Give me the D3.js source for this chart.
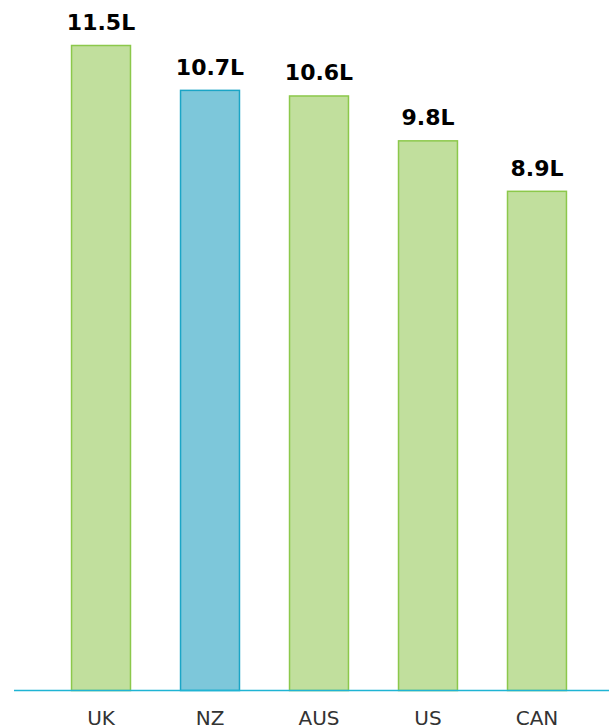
<!DOCTYPE html>
<html>
<head>
<meta charset="utf-8">
<script src="https://cdnjs.cloudflare.com/ajax/libs/d3/7.8.5/d3.min.js"></script>
<style>
  body { margin: 0; background: #fff; }
  svg { display: block; }
  .val { font-family: "DejaVu Sans", sans-serif; font-weight: bold; font-size: 22px; fill: #000; }
  .cat { font-family: "DejaVu Sans", sans-serif; font-size: 20px; fill: #333; }
</style>
</head>
<body>
<svg id="chart" width="609" height="728"></svg>
<script>
var countries = ["UK", "NZ", "AUS", "US", "CAN"];
var litres = [11.5, 10.7, 10.6, 9.8, 8.9];
var highlight = ["NZ"];

var svg = d3.select("#chart");

var baseY = 690;

var x = d3.scaleBand()
  .domain(countries)
  .range([22, 616])
  .paddingInner(0.45)
  .paddingOuter(0.45);

var y = d3.scaleLinear()
  .domain([0, 11.5])
  .range([baseY, 45]);

var data = countries.map(function(c, i){ return {c: c, v: litres[i]}; });

// bars
svg.selectAll("rect.bar")
  .data(data)
  .enter().append("rect")
  .attr("class", "bar")
  .attr("x", function(d){ return x(d.c) + 0.5; })
  .attr("y", function(d){ return y(d.v) + 0.5; })
  .attr("width", x.bandwidth() - 1)
  .attr("height", function(d){ return baseY - y(d.v); })
  .attr("fill", function(d){ return highlight.indexOf(d.c) > -1 ? "#7dc7da" : "#c1df9d"; })
  .attr("stroke", function(d){ return highlight.indexOf(d.c) > -1 ? "#1ba5c6" : "#8cc84b"; })
  .attr("stroke-width", 1.5);

// value labels
svg.selectAll("text.val")
  .data(data)
  .enter().append("text")
  .attr("class", "val")
  .attr("x", function(d){ return x(d.c) + x.bandwidth()/2; })
  .attr("y", function(d){ return y(d.v) - 15; })
  .attr("text-anchor", "middle")
  .text(function(d){ return d.v.toFixed(1) + "L"; });

// baseline
svg.append("line")
  .attr("x1", 14).attr("x2", 609)
  .attr("y1", baseY + 0.5).attr("y2", baseY + 0.5)
  .attr("stroke", "#1fb4d4")
  .attr("stroke-width", 1.5);

// category labels
svg.selectAll("text.cat")
  .data(data)
  .enter().append("text")
  .attr("class", "cat")
  .attr("x", function(d){ return x(d.c) + x.bandwidth()/2; })
  .attr("y", 725)
  .attr("text-anchor", "middle")
  .text(function(d){ return d.c; });
</script>
</body>
</html>
